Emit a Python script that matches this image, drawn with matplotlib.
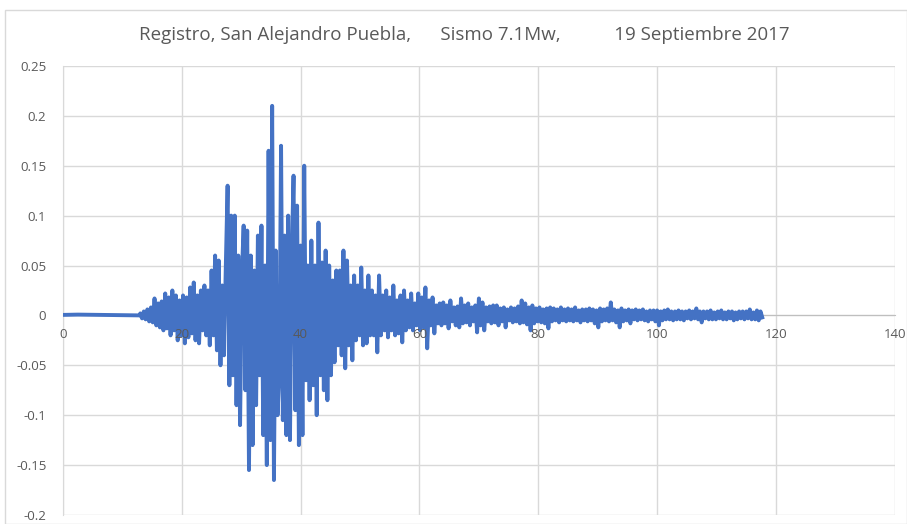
import numpy as np
import matplotlib
matplotlib.use('Agg')
import matplotlib.pyplot as plt
from matplotlib.ticker import FuncFormatter
from matplotlib.patches import Rectangle

# record header / axis settings
title = 'Registro, San Alejandro Puebla,      Sismo 7.1Mw,           19 Septiembre 2017'
x_ticks = [0, 20, 40, 60, 80, 100, 120, 140]
y_ticks = [-0.2, -0.15, -0.1, -0.05, 0, 0.05, 0.1, 0.15, 0.2, 0.25]

# quiet part before the arrival (time s, acceleration)
quiet_t = [0.0, 2.5, 13.0]
quiet_a = [0.0005, 0.0008, 0.0]

# strong motion, one value every 0.3 s from t = 13 s
t_start = 13.0
dt = 0.3
acc = [
    0.002, -0.003, 0.004, -0.004, 0.006, -0.006, 0.008, -0.007, 0.017, -0.010,
    0.012, -0.012, 0.014, -0.015, 0.022, -0.013, 0.018, -0.020, 0.025, -0.015,
    0.020, -0.025, 0.015, -0.020, 0.020, -0.028, 0.018, -0.022, 0.028, -0.018,
    0.033, -0.025, 0.020, -0.028, 0.025, -0.015, 0.030, -0.020, 0.025, -0.030,
    0.045, -0.020, 0.060, -0.035, 0.055, -0.050, 0.030, -0.040, 0.050, 0.130,
    -0.070, 0.100, -0.060, 0.100, -0.090, 0.060, -0.110, 0.040, 0.090, -0.075,
    0.085, -0.155, 0.060, -0.130, 0.045, -0.090, 0.080, -0.060, 0.090, -0.120,
    0.050, -0.150, 0.165, -0.125, 0.210, -0.165, 0.065, -0.100, -0.060, 0.170,
    -0.105, 0.080, -0.120, 0.100, -0.125, 0.060, 0.140, -0.095, 0.110, -0.130,
    0.070, -0.120, 0.150, -0.065, 0.050, -0.085, 0.075, -0.070, 0.050, -0.100,
    0.093, -0.060, 0.053, -0.075, 0.065, -0.085, 0.050, -0.060, 0.035, -0.047,
    0.045, -0.030, 0.045, -0.040, 0.065, -0.053, 0.055, -0.030, 0.030, -0.045,
    0.040, -0.025, 0.030, -0.020, 0.048, -0.030, 0.025, -0.028, 0.040, -0.020,
    0.025, -0.020, 0.020, -0.037, 0.040, -0.020, 0.020, -0.015, 0.025, -0.022,
    0.018, -0.015, 0.030, -0.020, 0.015, -0.018, 0.020, -0.027, 0.025, -0.015,
    0.015, -0.012, 0.022, -0.015, 0.012, -0.010, 0.022, -0.015, 0.018, -0.012,
    0.028, -0.033, 0.015, -0.010, 0.018, -0.018, 0.010, -0.008, 0.012, -0.010,
    0.013, -0.008, 0.010, -0.013, 0.015, -0.006, 0.008, -0.010, 0.009, -0.012,
    0.017, -0.008, 0.010, -0.007, 0.012, -0.010, 0.008, -0.006, 0.010, -0.017,
    0.017, -0.010, 0.013, -0.015, 0.008, -0.006, 0.009, -0.008, 0.010, -0.007,
    0.010, -0.010, 0.007, -0.006, 0.008, -0.012, 0.006, -0.005, 0.008, -0.007,
    0.007, -0.006, 0.009, -0.008, 0.015, -0.007, 0.012, -0.009, 0.008, -0.015,
    0.010, -0.008, 0.007, -0.006, 0.008, -0.007, 0.006, -0.008, 0.007, -0.013,
    0.008, -0.006, 0.007, -0.005, 0.006, -0.007, 0.008, -0.005, 0.006, -0.006,
    0.007, -0.005, 0.006, -0.006, 0.008, -0.005, 0.005, -0.007, 0.006, -0.005,
    0.006, -0.006, 0.007, -0.005, 0.006, -0.008, 0.005, -0.012, 0.007, -0.006,
    0.006, -0.005, 0.007, -0.006, 0.013, -0.005, 0.006, -0.007, 0.005, -0.012,
    0.007, -0.006, 0.005, -0.005, 0.006, -0.008, 0.005, -0.004, 0.006, -0.005,
    0.005, -0.004, 0.006, -0.005, 0.004, -0.006, 0.005, -0.004, 0.005, -0.006,
    0.005, -0.010, 0.004, -0.005, 0.005, -0.004, 0.006, -0.004, 0.004, -0.005,
    0.004, -0.004, 0.005, -0.004, 0.004, -0.005, 0.004, -0.003, 0.005, -0.004,
    0.004, -0.003, 0.007, -0.004, 0.004, -0.007, 0.004, -0.003, 0.004, -0.004,
    0.005, -0.004, 0.003, -0.004, 0.004, -0.003, 0.005, -0.004, 0.003, -0.004,
    0.004, -0.003, 0.004, -0.005, 0.003, -0.004, 0.004, -0.003, 0.004, -0.004,
    0.004, -0.003, 0.006, -0.004, 0.003, -0.004, 0.005, -0.005, 0.004, -0.002,
]

t_motion = t_start + dt * np.arange(len(acc))
t = np.concatenate([quiet_t, t_motion])
a = np.concatenate([quiet_a, acc])

grid_col = '#d9d9d9'
text_col = '#595959'
plt.rcParams['font.family'] = ['Open Sans', 'DejaVu Sans']

fig = plt.figure(figsize=(9.07, 5.24), dpi=100)
fig.patches.append(Rectangle((0.005, 0.0), 0.995, 0.981, transform=fig.transFigure,
                             fill=False, edgecolor='#d9d9d9', linewidth=1))
ax = fig.add_axes([0.0695, 0.0172, 0.917, 0.857])

# the trace goes above the zero axis line, as in the spreadsheet chart
ax.plot(t, a, color='#4472C4', linewidth=2.8, solid_joinstyle='round', zorder=3)

ax.set_xlim(0, 140)
ax.set_ylim(-0.2, 0.25)
ax.set_xticks(x_ticks)
ax.set_yticks(y_ticks)
ax.yaxis.set_major_formatter(FuncFormatter(lambda v, p: '%g' % round(v, 2)))
ax.grid(True, color=grid_col, linewidth=1)
ax.set_axisbelow(True)

for s in ['top', 'right']:
    ax.spines[s].set_visible(False)
ax.spines['left'].set_color(grid_col)
ax.spines['bottom'].set_position(('data', 0))
ax.spines['bottom'].set_color('#bfbfbf')
ax.tick_params(axis='both', length=0, colors=text_col, labelsize=9.5)
ax.tick_params(axis='y', pad=12)
ax.tick_params(axis='x', labelbottom=False)

# x labels sit on the zero line and are drawn over the trace
for xv in x_ticks:
    ax.annotate(str(xv), (xv, 0), xytext=(0, -9), textcoords='offset points',
                ha='center', va='top', fontsize=9.5, color=text_col,
                annotation_clip=False, zorder=4)

fig.text(0.512, 0.933, title, ha='center', va='center', fontsize=13.5, color=text_col)

fig.savefig('out.png', dpi=100)
